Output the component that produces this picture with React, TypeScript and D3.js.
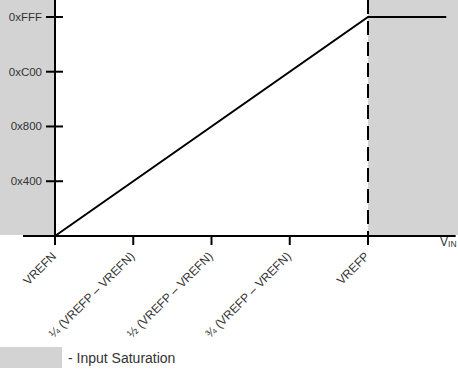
import React from "react";
import * as d3 from "d3";

const xTicks = [0, 0.25, 0.5, 0.75, 1];
const xTickLabels = ["VREFN", "¼ (VREFP – VREFN)", "½ (VREFP – VREFN)", "¾ (VREFP – VREFN)", "VREFP"];
const yTicks = [0x400, 0x800, 0xc00, 0xfff];
const yTickLabels = ["0x400", "0x800", "0xC00", "0xFFF"];
// transfer function: vin (fraction of VREFP-VREFN) -> code
const transferVin = [0, 1, 1.25];
const transferCode = [0, 0xfff, 0xfff];

const width = 458;
const height = 372;
const font = "Liberation Sans, Arial, sans-serif";

export default function App() {
  const x = d3.scaleLinear().domain([0, 1]).range([55, 368]);
  const y = d3.scaleLinear().domain([0, 0xfff]).range([236, 17]);

  const line = d3
    .line<number>()
    .x((d) => x(transferVin[d]))
    .y((d) => y(transferCode[d]));

  const x0 = x(0);
  const y0 = y(0);

  return (
    <svg
      width={width}
      height={height}
      style={{ position: "absolute", left: 0, top: 0 }}
      fontFamily={font}
    >
      {/* saturation regions */}
      <rect x={0} y={0} width={x0} height={y0 - 1} fill="#d3d3d3" />
      <rect x={x(1)} y={0} width={width - x(1)} height={y0 - 1} fill="#d3d3d3" />

      {/* axes */}
      <line x1={x0} x2={x0} y1={0} y2={245} stroke="#000" strokeWidth={2} />
      <line x1={23} x2={x(1.28)} y1={y0} y2={y0} stroke="#000" strokeWidth={2} />

      {yTicks.map((t, i) => (
        <g key={t}>
          <line x1={x0 - 9} x2={x0 + 8} y1={y(t)} y2={y(t)} stroke="#000" strokeWidth={2} />
          <text x={x0 - 13} y={y(t) + 4} fontSize={11.5} textAnchor="end" fill="#333">
            {yTickLabels[i]}
          </text>
        </g>
      ))}

      {xTicks.map((t, i) => (
        <g key={t}>
          <line x1={x(t)} x2={x(t)} y1={y0} y2={245} stroke="#000" strokeWidth={2} />
          <text
            fontSize={12}
            textAnchor="end"
            fill="#333"
            transform={`translate(${x(t) + 2},${y0 + 21}) rotate(-45)`}
          >
            {xTickLabels[i]}
          </text>
        </g>
      ))}

      {/* dashed VREFP marker */}
      <line
        x1={x(1)}
        x2={x(1)}
        y1={0}
        y2={y0}
        stroke="#000"
        strokeWidth={2}
        strokeDasharray="14,7"
      />

      <path d={line([0, 1, 2]) || ""} fill="none" stroke="#000" strokeWidth={2} />

      <text x={440} y={246} fontSize={12} fill="#333">
        V<tspan fontSize={8.5} dy={1}>IN</tspan>
      </text>

      {/* legend */}
      <rect x={0} y={347} width={62} height={21} fill="#d3d3d3" />
      <text x={68} y={363} fontSize={14} fill="#333">
        - Input Saturation
      </text>
    </svg>
  );
}
